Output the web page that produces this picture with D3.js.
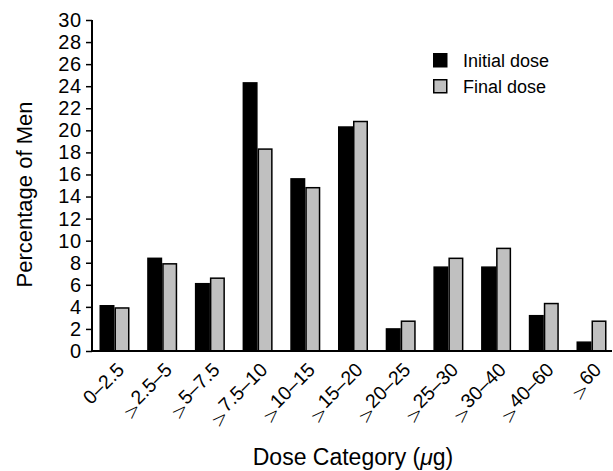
<!DOCTYPE html>
<html>
<head>
<meta charset="utf-8">
<script src="https://cdn.jsdelivr.net/npm/d3@7"></script>
<style>
  body { margin: 0; background: #fff; }
  svg { font-family: "Liberation Sans", Arial, sans-serif; }
</style>
</head>
<body>
<div id="chart"></div>
<script>
// data
const categories = ["0\u20132.5", ">2.5\u20135", ">5\u20137.5", ">7.5\u201310", ">10\u201315", ">15\u201320",
                    ">20\u201325", ">25\u201330", ">30\u201340", ">40\u201360", ">60"];
const initialDose = [4.1, 8.4, 6.1, 24.3, 15.6, 20.3, 2.0, 7.6, 7.6, 3.2, 0.8];
const finalDose = [3.9, 7.9, 6.6, 18.3, 14.8, 20.8, 2.7, 8.4, 9.3, 4.3, 2.7];
const seriesNames = ["Initial dose", "Final dose"];
const seriesColors = ["#000000", "#c0c0c0"];
const yTicks = d3.range(0, 31, 2);

const W = 613, H = 471;
const plotLeft = 92, plotRight = 614, plotTop = 20, plotBottom = 351;

const svg = d3.select("#chart").append("svg")
    .attr("width", W)
    .attr("height", H);

const x = d3.scaleBand()
    .domain(categories)
    .range([plotLeft, plotRight])
    .paddingInner(0.371)
    .paddingOuter(0.157);

const xs = d3.scaleBand()
    .domain(seriesNames)
    .range([0, x.bandwidth()]);

const y = d3.scaleLinear().domain([0, 30]).range([plotBottom, plotTop]);

// bars
const rows = categories.map((c, i) => ({ cat: c, vals: [initialDose[i], finalDose[i]] }));

const groups = svg.selectAll("g.grp")
    .data(rows)
    .enter().append("g")
    .attr("class", "grp")
    .attr("transform", d => `translate(${x(d.cat)},0)`);

groups.selectAll("rect")
    .data(d => d.vals.map((v, k) => ({ v: v, k: k })))
    .enter().append("rect")
    .attr("x", d => xs(seriesNames[d.k]) + 0.75)
    .attr("width", xs.bandwidth() - 1.5)
    .attr("y", d => y(d.v))
    .attr("height", d => plotBottom - y(d.v))
    .attr("fill", d => seriesColors[d.k])
    .attr("stroke", "#000")
    .attr("stroke-width", 1.5);

// y axis
const yAxis = svg.append("g")
    .attr("transform", `translate(${plotLeft},0)`)
    .call(d3.axisLeft(y).tickValues(yTicks).tickSize(6).tickPadding(4).tickFormat(d3.format("d")));
yAxis.select(".domain").attr("stroke-width", 2).attr("d", `M0,${plotTop}V${plotBottom}`);
yAxis.selectAll(".tick line").attr("stroke-width", 1.5);
yAxis.selectAll("text")
    .attr("font-size", 20)
    .attr("letter-spacing", 0.8)
    .attr("font-family", "Liberation Sans, Arial, sans-serif")
    .attr("fill", "#000");

// x axis line
svg.append("line")
    .attr("x1", plotLeft).attr("x2", plotRight - 2)
    .attr("y1", plotBottom).attr("y2", plotBottom)
    .attr("stroke", "#000")
    .attr("stroke-width", 2);

// x tick labels (rotated)
const xl = svg.selectAll("text.xl")
    .data(categories)
    .enter().append("text")
    .attr("class", "xl")
    .attr("text-anchor", "end")
    .attr("font-size", 19.5)
    .attr("transform", d => `translate(${x(d) + x.bandwidth() / 2 + 11},${plotBottom + 20}) rotate(-45)`);

xl.each(function (d) {
    const t = d3.select(this);
    if (d.startsWith(">")) {
        t.append("tspan")
            .attr("font-family", "DejaVu Sans")
            .attr("font-weight", 200)
            .attr("dy", 6)
            .text(">");
        t.append("tspan").attr("dy", -6).text(d.slice(1));
    } else {
        t.text(d);
    }
});

// axis titles
svg.append("text")
    .attr("transform", `translate(32,${(plotTop + plotBottom) / 2 + 9}) rotate(-90)`)
    .attr("text-anchor", "middle")
    .attr("font-size", 22)
    .text("Percentage of Men");

const xt = svg.append("text")
    .attr("x", 353)
    .attr("y", 465)
    .attr("text-anchor", "middle")
    .attr("font-size", 23);
xt.append("tspan").text("Dose Category (");
xt.append("tspan").attr("font-style", "italic").text("\u03bc");
xt.append("tspan").text("g)");

// legend
const legend = svg.selectAll("g.leg")
    .data(seriesNames)
    .enter().append("g")
    .attr("class", "leg")
    .attr("transform", (d, i) => `translate(433,${53 + i * 26})`);

legend.append("rect")
    .attr("x", 0.75).attr("y", 0.75)
    .attr("width", 13).attr("height", 13)
    .attr("fill", (d, i) => seriesColors[i])
    .attr("stroke", "#000")
    .attr("stroke-width", 1.5);

legend.append("text")
    .attr("x", 30)
    .attr("y", 13.5)
    .attr("font-size", 18)
    .text(d => d);
</script>
</body>
</html>
